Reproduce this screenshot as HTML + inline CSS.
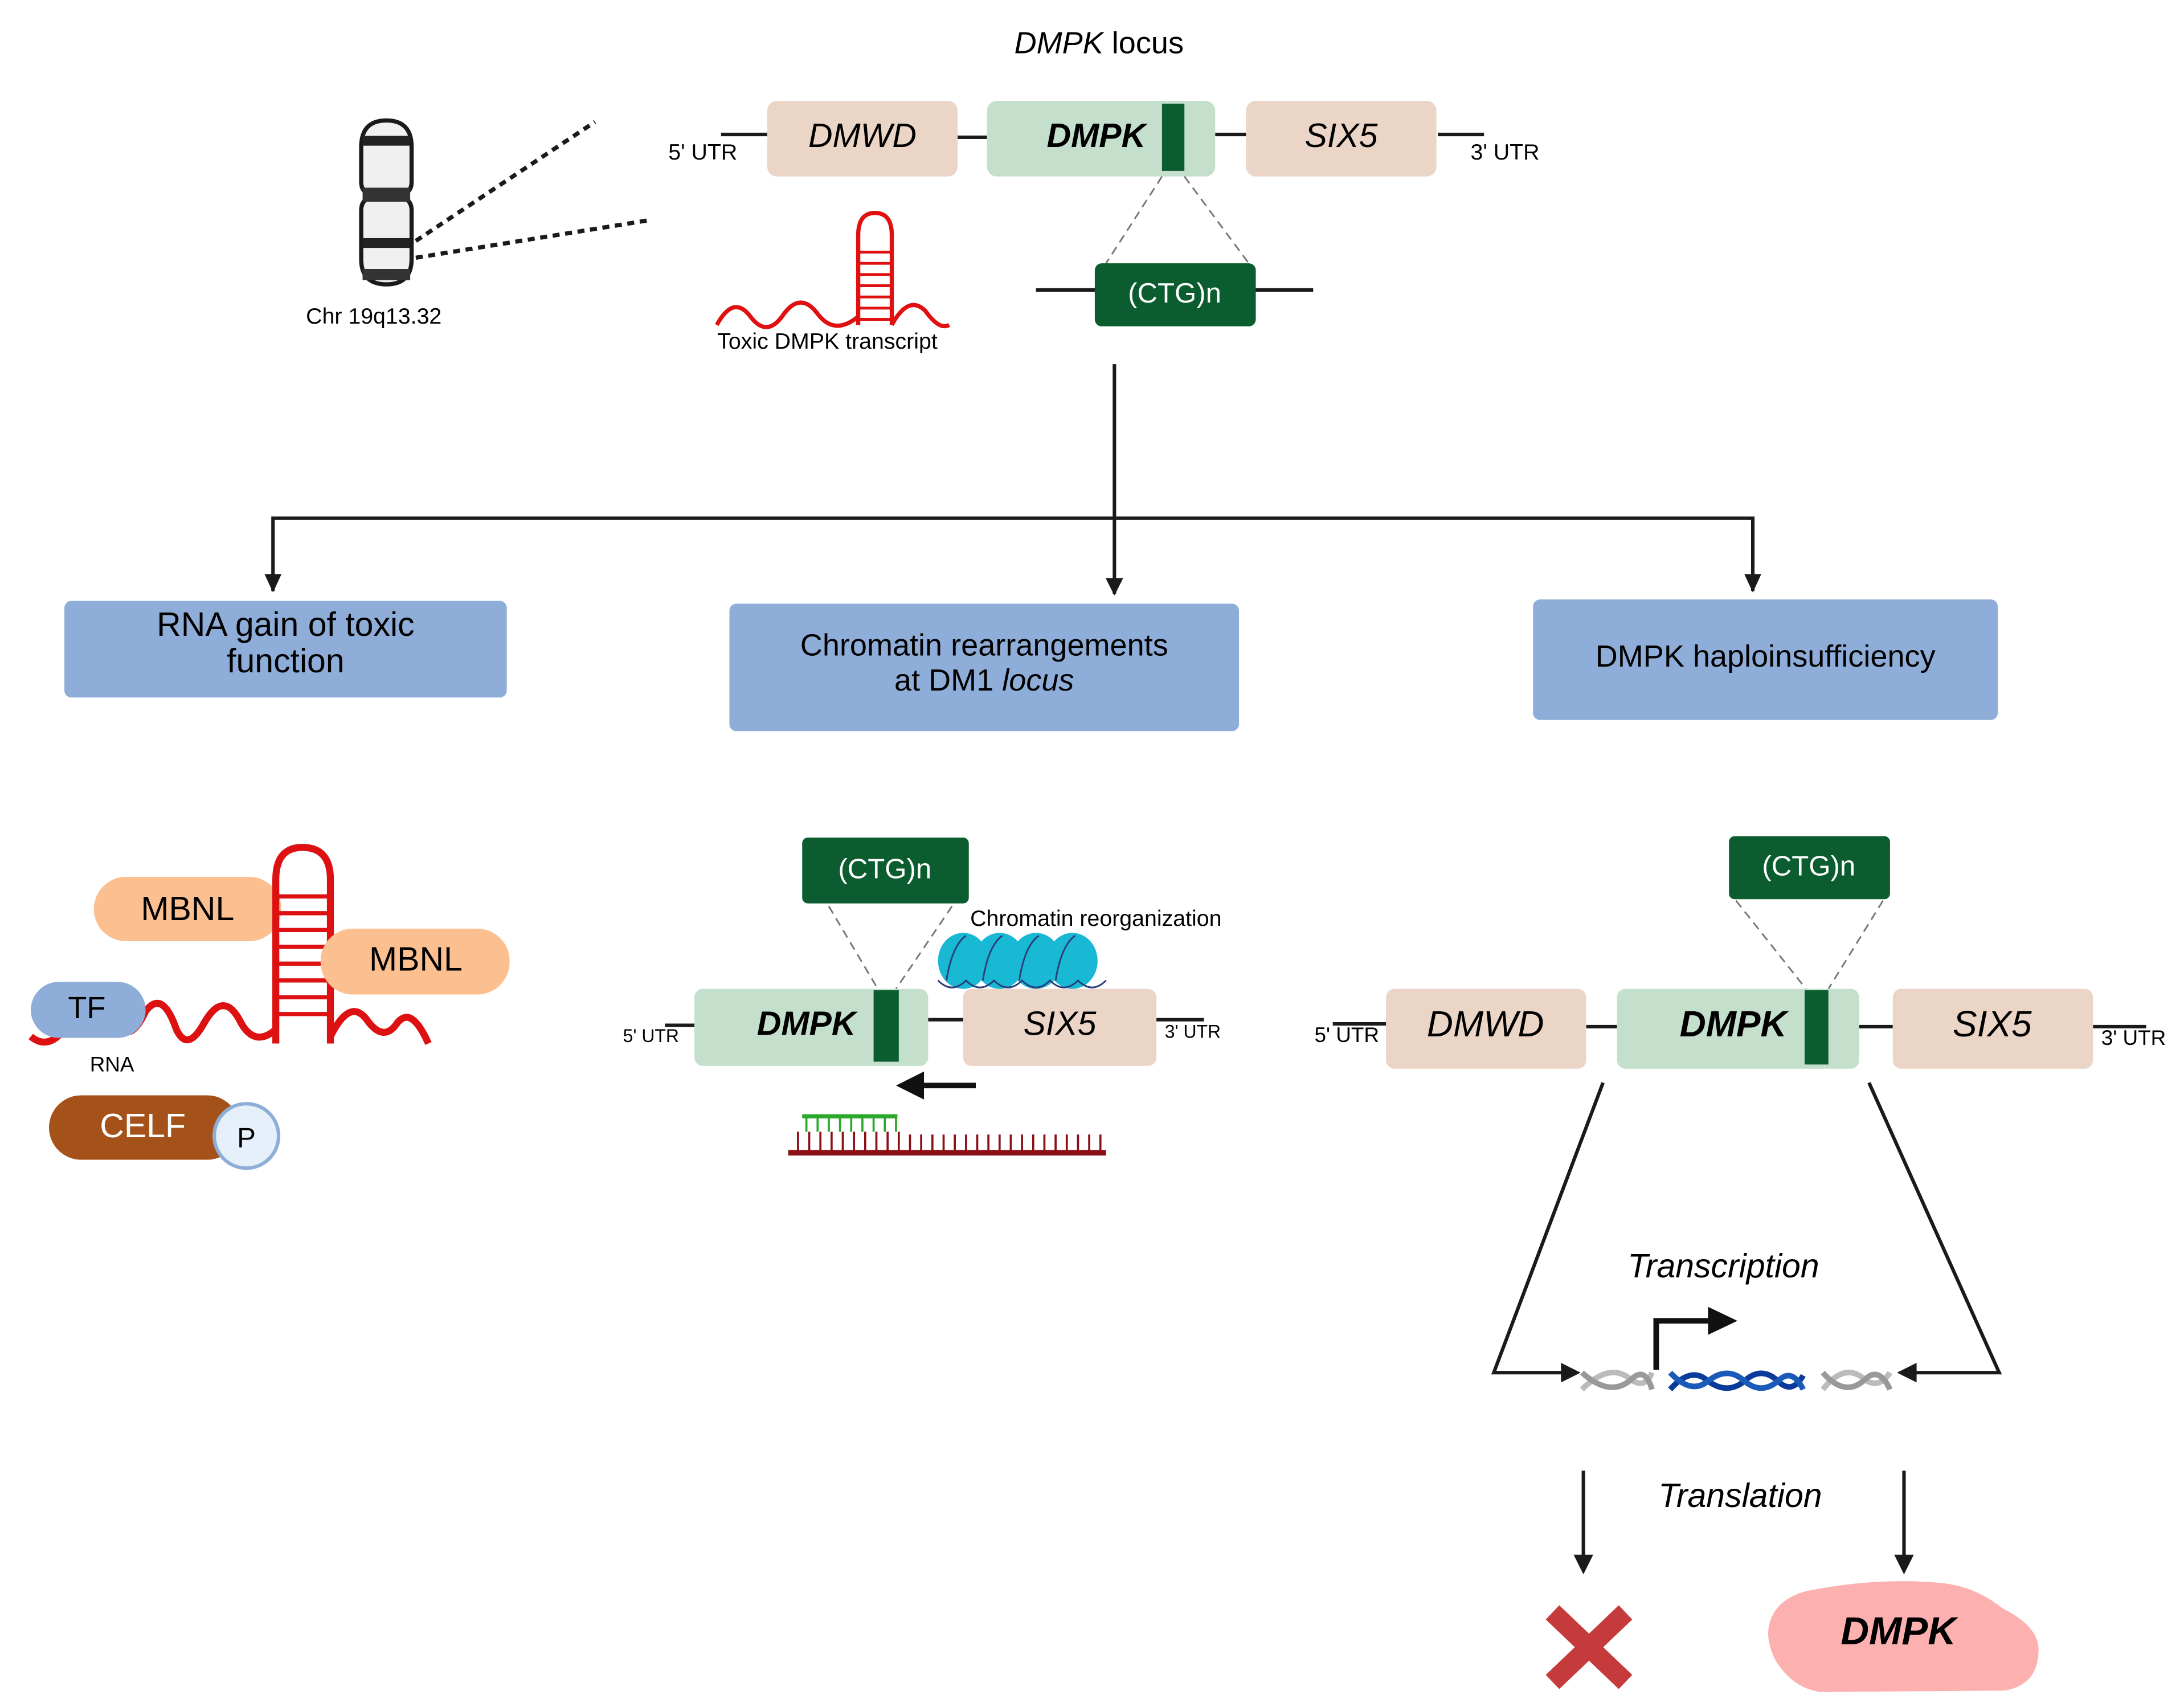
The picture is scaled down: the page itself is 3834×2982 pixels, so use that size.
<!DOCTYPE html>
<html><head><meta charset="utf-8"><style>
html,body{margin:0;padding:0;background:#fff;}
svg{display:block;}
text{font-family:"Liberation Sans",Arial,sans-serif;}
</style></head><body>
<svg width="3834" height="2982" viewBox="0 0 1560 1213" preserveAspectRatio="none" xmlns="http://www.w3.org/2000/svg">
<defs>
<marker id="ah" viewBox="0 0 10 10" refX="9" refY="5" markerWidth="5" markerHeight="5" orient="auto"><path d="M0,0 L10,5 L0,10 z" fill="#1a1a1a"/></marker>
</defs>
<rect width="1560" height="1213" fill="#fff"/>

<!-- Title -->
<text x="785" y="38" font-size="22" text-anchor="middle"><tspan font-style="italic">DMPK</tspan> locus</text>

<!-- chromosome -->
<g stroke="#1a1a1a" stroke-width="3">
<path d="M258,130 L258,105 Q258,86 276,86 Q294,86 294,105 L294,130 Q294,138 285,140 Q294,142 294,150 L294,185 Q294,203 276,203 Q258,203 258,185 L258,150 Q258,142 267,140 Q258,138 258,130 z" fill="#f0f0f0"/>
</g>
<rect x="259" y="97" width="34" height="7" fill="#222"/>
<rect x="259" y="170" width="34" height="7" fill="#222"/>
<rect x="259" y="134" width="34" height="10" fill="#333"/>
<rect x="259" y="192" width="34" height="8" fill="#333"/>
<line x1="297" y1="172" x2="425" y2="87" stroke="#1a1a1a" stroke-width="3" stroke-dasharray="5,4"/>
<line x1="297" y1="184" x2="465" y2="157" stroke="#1a1a1a" stroke-width="3" stroke-dasharray="5,4"/>
<text x="267" y="231" font-size="16" text-anchor="middle">Chr 19q13.32</text>

<!-- top locus -->
<g stroke="#1a1a1a" stroke-width="2.5">
<line x1="515" y1="96" x2="548" y2="96"/>
<line x1="684" y1="98" x2="705" y2="98"/>
<line x1="868" y1="96" x2="890" y2="96"/>
<line x1="1027" y1="96" x2="1060" y2="96"/>
</g>
<text x="502" y="114" font-size="16" text-anchor="middle">5' UTR</text>
<text x="1075" y="114" font-size="16" text-anchor="middle">3' UTR</text>
<rect x="548" y="72" width="136" height="54" rx="7" fill="#ebd5c7"/>
<text x="616" y="105" font-size="24" font-style="italic" text-anchor="middle">DMWD</text>
<rect x="705" y="72" width="163" height="54" rx="7" fill="#c4e0cc"/>
<text x="783" y="105" font-size="24" font-style="italic" font-weight="bold" text-anchor="middle">DMPK</text>
<rect x="830" y="74" width="16" height="48" fill="#0b5c2e"/>
<rect x="890" y="72" width="136" height="54" rx="7" fill="#ebd5c7"/>
<text x="958" y="105" font-size="24" font-style="italic" text-anchor="middle">SIX5</text>
<g stroke="#777" stroke-width="1.2" stroke-dasharray="6,4">
<line x1="830" y1="126" x2="790" y2="188"/>
<line x1="846" y1="126" x2="892" y2="188"/>
</g>
<line x1="740" y1="207" x2="938" y2="207" stroke="#1a1a1a" stroke-width="2.5"/>
<rect x="782" y="188" width="115" height="45" rx="5" fill="#0b5c2e"/>
<text x="839" y="216" font-size="20" fill="#fff" text-anchor="middle">(CTG)n</text>

<!-- toxic transcript -->
<g stroke="#e01010" stroke-width="3" fill="none">
<path d="M512,232 Q524,210 536,226 Q548,242 560,224 Q572,208 584,224 Q596,240 613,226"/>
<path d="M613,232 L613,168 Q613,152 625,152 Q637,152 637,168 L637,232"/>
<path d="M637,232 Q649,210 661,222 Q671,236 678,232"/>
</g>
<g stroke="#e01010" stroke-width="2">
<line x1="613" y1="180" x2="637" y2="180"/><line x1="613" y1="188" x2="637" y2="188"/>
<line x1="613" y1="196" x2="637" y2="196"/><line x1="613" y1="204" x2="637" y2="204"/>
<line x1="613" y1="212" x2="637" y2="212"/><line x1="613" y1="220" x2="637" y2="220"/>
<line x1="613" y1="228" x2="637" y2="228"/>
</g>
<text x="591" y="249" font-size="16" text-anchor="middle">Toxic DMPK transcript</text>

<!-- connectors -->
<g stroke="#1a1a1a" stroke-width="2.5" fill="none">
<line x1="796" y1="260" x2="796" y2="424" marker-end="url(#ah)"/>
<polyline points="195,422 195,370 1252,370 1252,422" />
</g>
<path d="M189,410 L201,410 L195,423 z" fill="#1a1a1a"/>
<path d="M1246,410 L1258,410 L1252,423 z" fill="#1a1a1a"/>

<!-- blue boxes -->
<rect x="46" y="429" width="316" height="69" rx="5" fill="#8eadd8"/>
<text x="204" y="454" font-size="24" text-anchor="middle">RNA gain of toxic</text>
<text x="204" y="480" font-size="24" text-anchor="middle">function</text>
<rect x="521" y="431" width="364" height="91" rx="5" fill="#8eadd8"/>
<text x="703" y="468" font-size="22" text-anchor="middle">Chromatin rearrangements</text>
<text x="703" y="493" font-size="22" text-anchor="middle">at DM1 <tspan font-style="italic">locus</tspan></text>
<rect x="1095" y="428" width="332" height="86" rx="5" fill="#8eadd8"/>
<text x="1261" y="476" font-size="22" text-anchor="middle">DMPK haploinsufficiency</text>

<!-- left bottom -->
<rect x="67" y="626" width="134" height="46" rx="23" fill="#fbbf90"/>
<text x="134" y="657" font-size="24" text-anchor="middle">MBNL</text>
<g stroke="#dd1111" stroke-width="5" fill="none">
<path d="M22,740 Q34,750 46,735 M58,740 Q72,712 82,728 Q92,748 104,722 Q116,706 126,735 Q134,752 146,730 Q160,706 172,730 Q182,748 197,735"/>
<path d="M197,745 L197,628 Q197,605 216,605 Q236,605 236,628 L236,745"/>
<path d="M236,740 Q250,712 262,728 Q274,745 284,730 Q294,718 306,745"/>
</g>
<g stroke="#dd1111" stroke-width="3">
<line x1="197" y1="640" x2="236" y2="640"/><line x1="197" y1="652" x2="236" y2="652"/>
<line x1="197" y1="664" x2="236" y2="664"/><line x1="197" y1="676" x2="236" y2="676"/>
<line x1="197" y1="688" x2="236" y2="688"/><line x1="197" y1="700" x2="236" y2="700"/>
<line x1="197" y1="712" x2="236" y2="712"/><line x1="197" y1="724" x2="236" y2="724"/>
</g>
<rect x="229" y="663" width="135" height="47" rx="23" fill="#fbbf90"/>
<text x="297" y="693" font-size="24" text-anchor="middle">MBNL</text>
<rect x="22" y="701" width="82" height="40" rx="20" fill="#8eadd8"/>
<text x="62" y="727" font-size="22" text-anchor="middle">TF</text>
<text x="80" y="765" font-size="15" text-anchor="middle">RNA</text>
<rect x="35" y="782" width="136" height="46" rx="23" fill="#a5521a"/>
<text x="102" y="812" font-size="24" fill="#fff" text-anchor="middle">CELF</text>
<circle cx="176" cy="811" r="23" fill="#e6f0fb" stroke="#8eadd8" stroke-width="2.5"/>
<text x="176" y="819" font-size="20" text-anchor="middle">P</text>

<!-- middle bottom -->
<rect x="573" y="598" width="119" height="47" rx="4" fill="#0b5c2e"/>
<text x="632" y="627" font-size="20" fill="#fff" text-anchor="middle">(CTG)n</text>
<g stroke="#777" stroke-width="1.2" stroke-dasharray="6,4">
<line x1="592" y1="647" x2="627" y2="706"/>
<line x1="680" y1="647" x2="640" y2="706"/>
</g>
<g>
<ellipse cx="688" cy="686" rx="18" ry="20" fill="#19b8d4"/>
<ellipse cx="714" cy="686" rx="18" ry="20" fill="#19b8d4"/>
<ellipse cx="740" cy="686" rx="18" ry="20" fill="#19b8d4"/>
<ellipse cx="766" cy="686" rx="18" ry="20" fill="#19b8d4"/>
<g stroke="#2a3d7a" stroke-width="1.2" fill="none">
<path d="M676,700 Q680,675 690,668 M702,700 Q706,675 716,668 M728,700 Q732,675 742,668 M754,700 Q758,675 768,668"/>
<path d="M670,700 Q680,710 690,700 Q700,710 710,700 Q720,710 730,700 Q740,710 750,700 Q760,710 770,700 Q780,710 790,700"/>
</g>
</g>
<text x="693" y="661" font-size="16">Chromatin reorganization</text>
<g stroke="#1a1a1a" stroke-width="2.5">
<line x1="475" y1="732" x2="496" y2="732"/>
<line x1="663" y1="728" x2="688" y2="728"/>
<line x1="826" y1="728" x2="860" y2="728"/>
</g>
<text x="465" y="744" font-size="13" text-anchor="middle">5' UTR</text>
<text x="852" y="741" font-size="13" text-anchor="middle">3' UTR</text>
<rect x="496" y="706" width="167" height="55" rx="6" fill="#c4e0cc"/>
<text x="576" y="739" font-size="24" font-style="italic" font-weight="bold" text-anchor="middle">DMPK</text>
<rect x="624" y="707" width="18" height="51" fill="#0b5c2e"/>
<rect x="688" y="706" width="138" height="55" rx="6" fill="#ebd5c7"/>
<text x="757" y="739" font-size="24" font-style="italic" text-anchor="middle">SIX5</text>
<line x1="697" y1="775" x2="660" y2="775" stroke="#111" stroke-width="4"/>
<path d="M640,775 L660,765 L660,785 z" fill="#111"/>
<line x1="563" y1="823" x2="790" y2="823" stroke="#8b0f15" stroke-width="4"/>
<line x1="573" y1="797" x2="641" y2="797" stroke="#2aa82a" stroke-width="3"/>
<g stroke="#8b0f15" stroke-width="1.5">
<path d="M570,823V808 M578,823V808 M586,823V808 M594,823V808 M602,823V808 M610,823V808 M618,823V808 M626,823V808 M634,823V808 M642,823V808 M650,823V810 M658,823V810 M666,823V810 M674,823V810 M682,823V810 M690,823V810 M698,823V810 M706,823V810 M714,823V810 M722,823V810 M730,823V810 M738,823V810 M746,823V810 M754,823V810 M762,823V810 M770,823V810 M778,823V810 M786,823V810"/>
</g>
<g stroke="#2aa82a" stroke-width="1.5">
<path d="M576,797V808 M584,797V808 M592,797V808 M600,797V808 M608,797V808 M616,797V808 M624,797V808 M632,797V808 M640,797V808"/>
</g>

<!-- right bottom -->
<rect x="1235" y="597" width="115" height="45" rx="4" fill="#0b5c2e"/>
<text x="1292" y="625" font-size="20" fill="#fff" text-anchor="middle">(CTG)n</text>
<g stroke="#777" stroke-width="1.2" stroke-dasharray="6,4">
<line x1="1240" y1="643" x2="1290" y2="706"/>
<line x1="1345" y1="643" x2="1306" y2="706"/>
</g>
<g stroke="#1a1a1a" stroke-width="2.5">
<line x1="952" y1="731" x2="990" y2="731"/>
<line x1="1133" y1="733" x2="1155" y2="733"/>
<line x1="1328" y1="733" x2="1352" y2="733"/>
<line x1="1495" y1="733" x2="1533" y2="733"/>
</g>
<text x="962" y="744" font-size="15" text-anchor="middle">5' UTR</text>
<text x="1524" y="746" font-size="15" text-anchor="middle">3' UTR</text>
<rect x="990" y="706" width="143" height="57" rx="6" fill="#ebd5c7"/>
<text x="1061" y="740" font-size="26" font-style="italic" text-anchor="middle">DMWD</text>
<rect x="1155" y="706" width="173" height="57" rx="6" fill="#c4e0cc"/>
<text x="1238" y="740" font-size="26" font-style="italic" font-weight="bold" text-anchor="middle">DMPK</text>
<rect x="1289" y="707" width="17" height="53" fill="#0b5c2e"/>
<rect x="1352" y="706" width="143" height="57" rx="6" fill="#ebd5c7"/>
<text x="1423" y="740" font-size="26" font-style="italic" text-anchor="middle">SIX5</text>

<g stroke="#1a1a1a" stroke-width="2.5" fill="none">
<polyline points="1145,773 1067,980 1117,980"/>
<polyline points="1335,773 1428,980 1367,980"/>
<line x1="1131" y1="1050" x2="1131" y2="1112"/>
<line x1="1360" y1="1050" x2="1360" y2="1112"/>
</g>
<path d="M1115,973 L1129,980 L1115,987 z" fill="#1a1a1a"/>
<path d="M1369,973 L1355,980 L1369,987 z" fill="#1a1a1a"/>
<path d="M1124,1110 L1138,1110 L1131,1124 z" fill="#1a1a1a"/>
<path d="M1353,1110 L1367,1110 L1360,1124 z" fill="#1a1a1a"/>
<text x="1231" y="912" font-size="24" font-style="italic" text-anchor="middle">Transcription</text>
<text x="1243" y="1076" font-size="24" font-style="italic" text-anchor="middle">Translation</text>
<!-- helices -->
<g fill="none" stroke-width="4">
<path d="M1130,992 Q1150,972 1165,985 Q1175,992 1180,980" stroke="#bbb"/>
<path d="M1130,980 Q1150,998 1165,985 Q1175,975 1180,992" stroke="#999"/>
<path d="M1193,992 Q1208,975 1220,986 Q1234,996 1246,986 Q1258,975 1270,986 Q1280,996 1288,982" stroke="#0a3a9a"/>
<path d="M1193,980 Q1208,996 1220,986 Q1234,975 1246,986 Q1258,996 1270,986 Q1280,976 1288,992" stroke="#1a5ab8"/>
<path d="M1302,992 Q1318,972 1332,985 Q1342,992 1350,980" stroke="#bbb"/>
<path d="M1302,980 Q1318,998 1332,985 Q1342,975 1350,992" stroke="#999"/>
</g>
<polyline points="1183,978 1183,943 1222,943" stroke="#111" stroke-width="4" fill="none"/>
<path d="M1220,933 L1241,943 L1220,953 z" fill="#111"/>
<!-- X -->
<g stroke="#c53b3b" stroke-width="14" stroke-linecap="square">
<line x1="1114" y1="1156" x2="1156" y2="1196"/>
<line x1="1156" y1="1156" x2="1114" y2="1196"/>
</g>
<!-- protein -->
<path d="M1290,1136 Q1340,1126 1385,1130 Q1410,1132 1430,1148 Q1458,1162 1456,1180 Q1455,1203 1432,1207 L1300,1208 Q1280,1205 1268,1185 Q1258,1165 1268,1150 Q1275,1140 1290,1136 z" fill="#fdb0b0"/>
<text x="1356" y="1174" font-size="28" font-weight="bold" font-style="italic" text-anchor="middle">DMPK</text>
</svg>
</body></html>
